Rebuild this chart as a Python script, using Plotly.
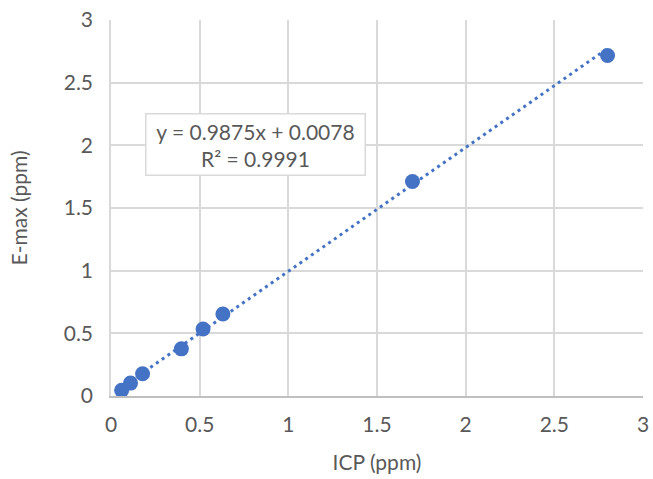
import numpy as np
import plotly.graph_objects as go

# ICP vs E-max readings (ppm)
icp = [0.06, 0.11, 0.178, 0.397, 0.519, 0.631, 1.70, 2.80]
emax = [0.045, 0.103, 0.178, 0.376, 0.535, 0.654, 1.712, 2.717]

# trendline as reported on the chart
slope = 0.9875
intercept = 0.0078
r_squared = 0.9991

axis_ticks = [0, 0.5, 1, 1.5, 2, 2.5, 3]
tick_text = ["0", "0.5", "1", "1.5", "2", "2.5", "3"]

BLUE = "#4472C4"
TEXT = "#595959"
GRID = "#d9d9d9"
FONT = "Lato, Carlito, Calibri, sans-serif"

trend_x = np.array([min(icp), max(icp)])
trend_y = slope * trend_x + intercept

fig = go.Figure()
fig.add_trace(
    go.Scatter(
        x=trend_x,
        y=trend_y,
        mode="lines",
        line=dict(color=BLUE, width=3, dash="3px,4px"),
        hoverinfo="skip",
        showlegend=False,
    )
)
fig.add_trace(
    go.Scatter(
        x=icp,
        y=emax,
        mode="markers",
        marker=dict(color=BLUE, size=15),
        showlegend=False,
    )
)

fig.add_annotation(
    text=f"y = {slope}x + {intercept}<br>R² = {r_squared}",
    xref="paper",
    yref="paper",
    x=0.272,
    y=0.670,
    xanchor="center",
    yanchor="middle",
    showarrow=False,
    align="center",
    font=dict(family=FONT, size=21, color=TEXT),
    bgcolor="white",
    bordercolor=GRID,
    borderwidth=1.5,
    borderpad=4,
    width=210,
)

fig.update_layout(
    width=653,
    height=479,
    margin=dict(l=111, r=10, t=20, b=83),
    plot_bgcolor="white",
    paper_bgcolor="white",
    font=dict(family=FONT, size=21, color=TEXT),
)
fig.update_xaxes(
    range=[0, 3],
    tickvals=axis_ticks,
    ticktext=tick_text,
    automargin=False,
    ticklabeloverflow="allow",
    showgrid=True,
    gridcolor=GRID,
    gridwidth=1.5,
    showline=True,
    linecolor="#bfbfbf",
    linewidth=1.5,
    zeroline=False,
    ticks="",
    ticklabelstandoff=9,
    title=dict(text="ICP (ppm)", font=dict(size=21, color=TEXT), standoff=20),
)
fig.update_yaxes(
    range=[0, 3],
    tickvals=axis_ticks,
    ticktext=tick_text,
    automargin=False,
    ticklabeloverflow="allow",
    showgrid=True,
    gridcolor=GRID,
    gridwidth=1.5,
    showline=True,
    linecolor=GRID,
    linewidth=1.5,
    zeroline=False,
    ticks="",
    ticklabelstandoff=12,
    title=dict(text="E-max (ppm)", font=dict(size=21, color=TEXT), standoff=30),
)

# drop the default page margin so the figure sits at the window's corner
fig.write_html(
    "out.html",
    config={"displayModeBar": False},
    post_script="document.body.style.margin = '0';",
)
